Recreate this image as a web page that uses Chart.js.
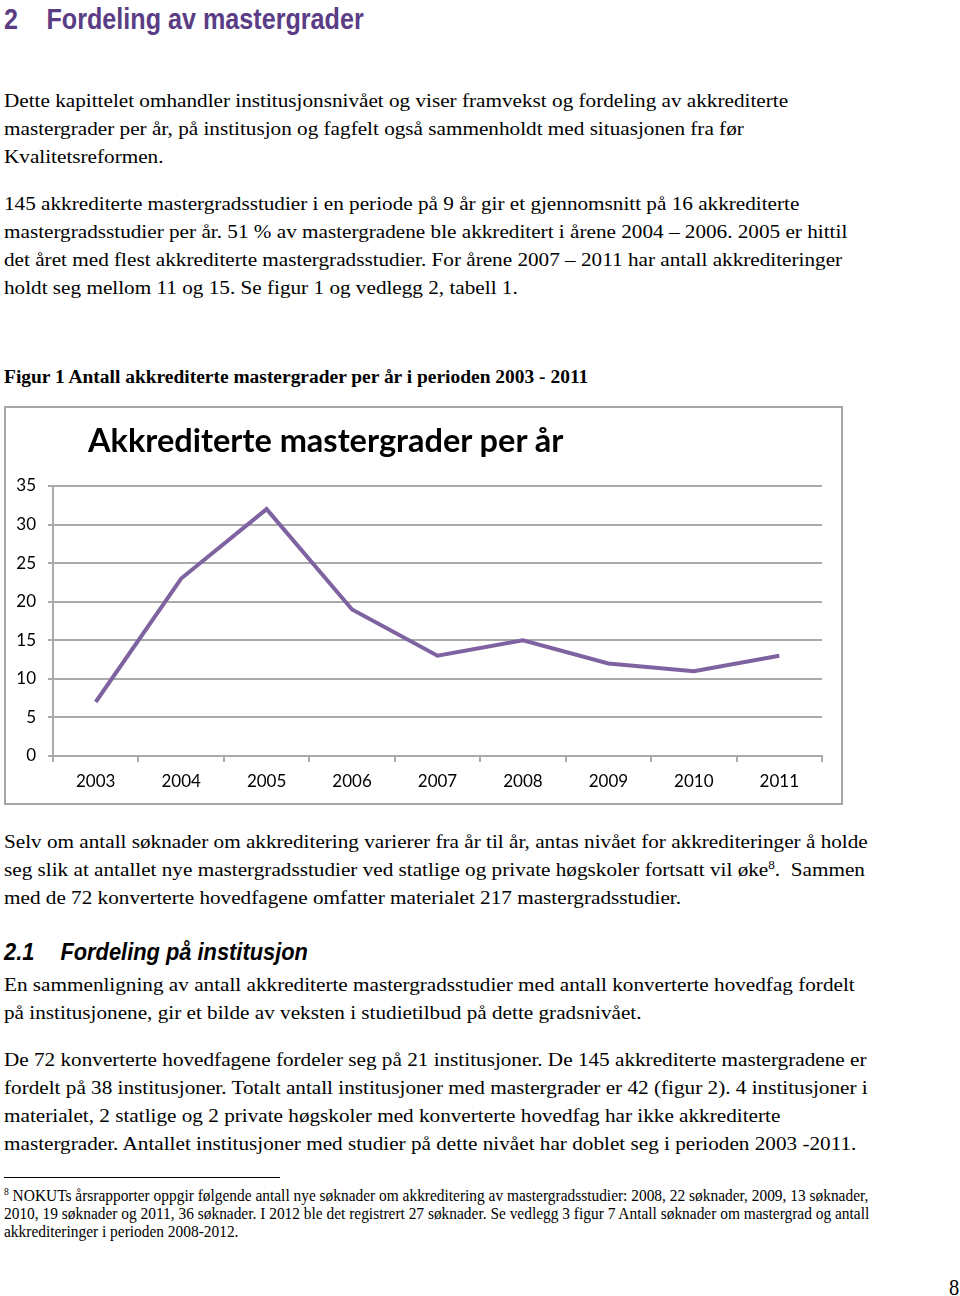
<!DOCTYPE html>
<html lang="no">
<head>
<meta charset="utf-8">
<title>Fordeling av mastergrader</title>
<script src="https://cdn.jsdelivr.net/npm/chart.js"></script>
<style>
  html, body { margin: 0; padding: 0; background: #fff; }
  body {
    width: 960px; height: 1296px; position: relative; overflow: hidden;
    font-family: 'Liberation Serif', 'Times New Roman', serif; color: #000;
  }
  /* the scanned page is a little wider than Times metrics, so stretch the text */
  .blk {
    position: absolute; left: 4px; white-space: nowrap; font-size: 19.5px; line-height: 28px;
    transform: scaleX(1.087); transform-origin: 0 0;
  }
  .caption { font-weight: bold; font-size: 17.9px; }
  .h1 {
    position: absolute; left: 4px; top: 1px; white-space: nowrap;
    font-family: 'Liberation Sans Narrow', 'Arial Narrow', 'Liberation Sans', sans-serif;
    font-weight: bold; font-size: 29px; line-height: 36px; color: #5a3d85;
    transform: scaleX(0.867); transform-origin: 0 0;
  }
  .h1 .num { display: inline-block; width: 49px; }
  .h2 {
    position: absolute; left: 4px; top: 937px; white-space: nowrap;
    font-family: 'Liberation Sans Narrow', 'Arial Narrow', 'Liberation Sans', sans-serif;
    font-weight: bold; font-style: italic; font-size: 24px; line-height: 30px;
    transform: scaleX(0.91); transform-origin: 0 0;
  }
  .h2 .num { display: inline-block; width: 62px; }
  sup { font-size: 62%; line-height: 0; vertical-align: 0.6em; }
  .chart-box {
    position: absolute; left: 4px; top: 406px; width: 835px; height: 395px;
    border: 2px solid #a6a6a6; background: #fff;
  }
  .chart-box canvas { position: absolute; left: 0; top: 0; }
  .chart-title {
    position: absolute; left: 82px; top: 12px; white-space: nowrap;
    font-family: Lato, 'Open Sans', sans-serif; font-weight: bold; font-size: 32.5px; line-height: 40px;
  }
  .rule { position: absolute; left: 4px; top: 1177px; width: 276px; height: 1px; background: #000; }
  .foot {
    position: absolute; left: 4px; top: 1187px; white-space: nowrap; font-size: 16px; line-height: 18px;
    transform: scaleX(0.963); transform-origin: 0 0;
  }
  .pageno {
    position: absolute; left: 949px; top: 1273px; font-size: 24px; line-height: 28px;
    transform: scaleX(0.85); transform-origin: 0 0;
  }
</style>
</head>
<body>

<div class="h1"><span class="num">2</span>Fordeling av mastergrader</div>

<div class="blk" style="top:87px">
Dette kapittelet omhandler institusjonsnivået og viser framvekst og fordeling av akkrediterte<br>
mastergrader per år, på institusjon og fagfelt også sammenholdt med situasjonen fra før<br>
Kvalitetsreformen.
</div>

<div class="blk" style="top:190px">
145 akkrediterte mastergradsstudier i en periode på 9 år gir et gjennomsnitt på 16 akkrediterte<br>
mastergradsstudier per år. 51 % av mastergradene ble akkreditert i årene 2004 – 2006. 2005 er hittil<br>
det året med flest akkrediterte mastergradsstudier. For årene 2007 – 2011 har antall akkrediteringer<br>
holdt seg mellom 11 og 15. Se figur 1 og vedlegg 2, tabell 1.
</div>

<div class="blk caption" style="top:363px">Figur 1 Antall akkrediterte mastergrader per år i perioden 2003 - 2011</div>

<div class="chart-box">
  <canvas id="myChart" width="835" height="395"></canvas>
  <div class="chart-title">Akkrediterte mastergrader per år</div>
</div>

<div class="blk" style="top:828px">
Selv om antall søknader om akkreditering varierer fra år til år, antas nivået for akkrediteringer å holde<br>
seg slik at antallet nye mastergradsstudier ved statlige og private høgskoler fortsatt vil øke<sup>8</sup>.&nbsp; Sammen<br>
med de 72 konverterte hovedfagene omfatter materialet 217 mastergradsstudier.
</div>

<div class="h2"><span class="num">2.1</span>Fordeling på institusjon</div>

<div class="blk" style="top:971px">
En sammenligning av antall akkrediterte mastergradsstudier med antall konverterte hovedfag fordelt<br>
på institusjonene, gir et bilde av veksten i studietilbud på dette gradsnivået.
</div>

<div class="blk" style="top:1046px">
De 72 konverterte hovedfagene fordeler seg på 21 institusjoner. De 145 akkrediterte mastergradene er<br>
fordelt på 38 institusjoner. Totalt antall institusjoner med mastergrader er 42 (figur 2). 4 institusjoner i<br>
materialet, 2 statlige og 2 private høgskoler med konverterte hovedfag har ikke akkrediterte<br>
mastergrader. Antallet institusjoner med studier på dette nivået har doblet seg i perioden 2003 -2011.
</div>

<div class="rule"></div>
<div class="foot">
<sup>8</sup> NOKUTs årsrapporter oppgir følgende antall nye søknader om akkreditering av mastergradsstudier: 2008, 22 søknader, 2009, 13 søknader,<br>
2010, 19 søknader og 2011, 36 søknader. I 2012 ble det registrert 27 søknader. Se vedlegg 3 figur 7 Antall søknader om mastergrad og antall<br>
akkrediteringer i perioden 2008-2012.
</div>

<div class="pageno">8</div>

<script>
const years = ['2003', '2004', '2005', '2006', '2007', '2008', '2009', '2010', '2011'];
const accredited = [7, 23, 32, 19, 13, 15, 12, 11, 13];
const yTicks = [0, 5, 10, 15, 20, 25, 30, 35];

const gridGrey = '#aaaaaa';
const tickFont = { family: 'Lato', size: 17 };

const ctx = document.querySelector('#myChart').getContext('2d');

// eslint-disable-next-line no-undef
new Chart(ctx, {
  type: 'line',
  data: {
    labels: years,
    datasets: [{
      label: 'Akkrediterte mastergrader',
      data: accredited,
      borderColor: '#7f63a1',
      backgroundColor: '#7f63a1',
      borderWidth: 4,
      pointRadius: 0,
      tension: 0,
    }]
  },
  options: {
    responsive: false,
    animation: false,
    devicePixelRatio: 1,
    layout: {
      padding: { top: 78, right: 19, left: 0, bottom: 0 }
    },
    plugins: {
      legend: { display: false },
      title: { display: false },
      tooltip: { enabled: false },
    },
    scales: {
      x: {
        offset: true,
        afterFit: function(scale) { scale.height = 47; },
        grid: {
          offset: true,
          drawOnChartArea: false,
          drawTicks: true,
          tickLength: 6,
          color: gridGrey,
          lineWidth: 2,
        },
        border: { display: true, color: gridGrey, width: 2 },
        ticks: { color: '#000', font: tickFont, padding: 9, maxRotation: 0 },
      },
      y: {
        min: yTicks[0],
        max: yTicks[yTicks.length - 1],
        afterFit: function(scale) { scale.width = 47; },
        afterBuildTicks: function(scale) {
          scale.ticks = yTicks.map(v => ({ value: v }));
        },
        grid: {
          color: gridGrey,
          lineWidth: 2,
          tickLength: 5,
        },
        border: { display: true, color: gridGrey, width: 2 },
        ticks: { color: '#000', font: tickFont, padding: 12 },
      }
    }
  }
});
</script>
</body>
</html>
